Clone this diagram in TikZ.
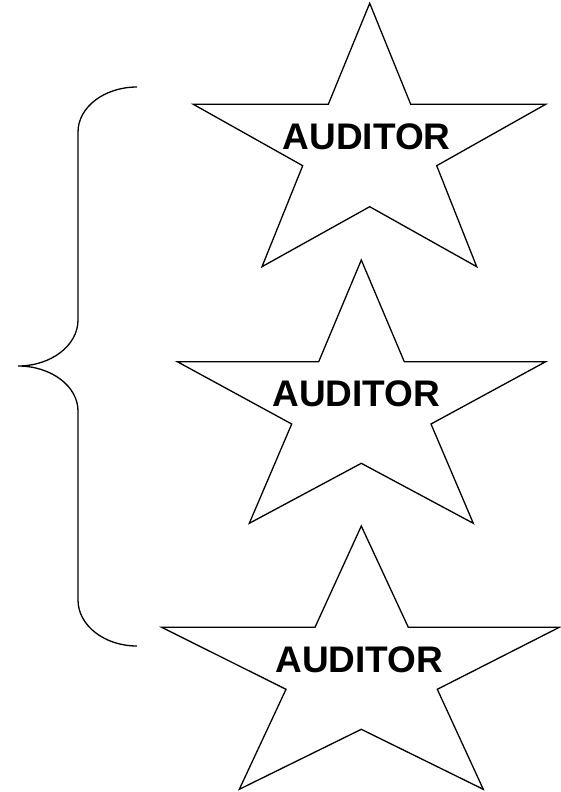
\documentclass[tikz,border=0pt]{standalone}
\usepackage{fontspec}
\setmainfont{Liberation Sans}
\begin{document}
\begin{tikzpicture}[x=1pt,y=-1pt,
  starline/.style={draw=black,line width=1.3pt,line join=miter,fill=white},
  bracel/.style={draw=black,line width=1.3pt},
  label/.style={font=\fontsize{37}{40}\selectfont\bfseries,inner sep=0pt}]
\useasboundingbox (0,0) rectangle (560,792);
% star 1
\draw[starline] (369.7,3.3) -- (410.7,104.3) -- (545.7,104.3) -- (436.7,165.7) -- (476.7,266.7) -- (369.7,206.7) -- (262,266.7) -- (302.7,165.7) -- (193.3,104.3) -- (328.3,104.3) -- cycle;
% star 2
\draw[starline] (361.3,260) -- (404.3,361.7) -- (545.7,361.7) -- (431,424) -- (473.3,523.3) -- (361.3,463.3) -- (249.3,523.3) -- (291.7,424) -- (177.3,361.7) -- (318.7,361.7) -- cycle;
% star 3
\draw[starline] (361.3,526) -- (408.3,627.3) -- (559.3,627.3) -- (437.3,689.3) -- (483.3,789.3) -- (361.3,729.3) -- (239.3,789.3) -- (286,689.3) -- (161.7,627.3) -- (315,627.3) -- cycle;
\node[label] (a1) at (366.7,136.7) {AUDITOR};
\node[label] (a2) at (356.3,394) {AUDITOR};
\node[label] (a3) at (359.3,660) {AUDITOR};
% brace
\draw[bracel] (137,87) arc[start angle=90,end angle=180,x radius=59,y radius=-45]
  -- (78,320) arc[start angle=0,end angle=-90,x radius=60,y radius=-46]
  arc[start angle=90,end angle=0,x radius=60,y radius=-45]
  -- (78,600) arc[start angle=180,end angle=270,x radius=59,y radius=-46];
\end{tikzpicture}
\end{document}
